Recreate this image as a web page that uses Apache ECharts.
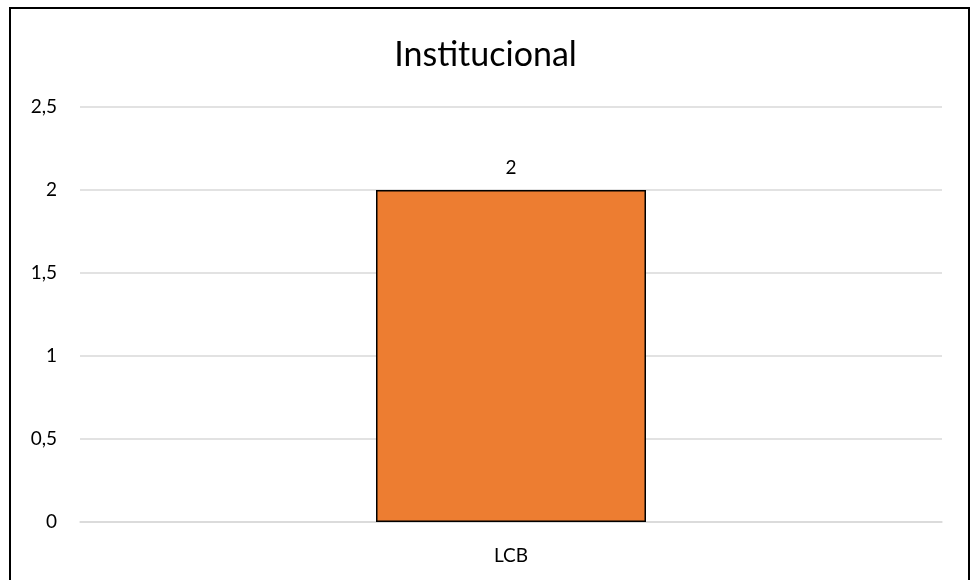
<!DOCTYPE html>
<html>
<head>
<meta charset="utf-8">
<script src="https://cdn.jsdelivr.net/npm/echarts@6/dist/echarts.min.js"></script>
<style>
html,body{margin:0;padding:0;background:#fff;}
#c{width:971px;height:580px;}
</style>
</head>
<body>
<div id="c"></div>
<script>
const title = "Institucional";
const categories = ["LCB"];
const values = [2];
const yTicks = [0, 0.5, 1, 1.5, 2, 2.5];

const chart = echarts.init(document.getElementById('c'), null, {renderer: 'canvas'});
const fontFam = 'Lato, "Open Sans", sans-serif';
chart.setOption({
  animation: false,
  backgroundColor: '#fff',
  title: {
    text: title,
    left: 'center',
    top: 33,
    textStyle: {fontFamily: fontFam, fontSize: 34, fontWeight: 'normal', color: '#000'}
  },
  grid: {left: 80, right: 29, top: 107, bottom: 58, containLabel: false},
  xAxis: {
    type: 'category',
    data: categories,
    axisLine: {show: true, lineStyle: {color: '#d9d9d9', width: 1.5}},
    axisTick: {show: false},
    axisLabel: {fontFamily: fontFam, fontSize: 19, color: '#000', margin: 24}
  },
  yAxis: {
    type: 'value',
    min: yTicks[0],
    max: yTicks[yTicks.length - 1],
    interval: 0.5,
    axisLine: {show: false},
    axisTick: {show: false},
    splitLine: {lineStyle: {color: '#d9d9d9', width: 1.5}},
    axisLabel: {
      fontFamily: fontFam, fontSize: 19, color: '#000', margin: 23,
      formatter: v => String(v).replace('.', ',')
    }
  },
  series: [{
    type: 'bar',
    data: values,
    barWidth: 270,
    itemStyle: {color: '#ed7d31', borderColor: '#000', borderWidth: 1.5},
    label: {
      show: true, position: 'top', distance: 13,
      fontFamily: fontFam, fontSize: 19, color: '#000'
    }
  }],
  graphic: [{
    type: 'rect',
    shape: {x: 10, y: 8, width: 959, height: 600},
    style: {fill: 'none', stroke: '#000', lineWidth: 2},
    silent: true,
    z: 100
  }]
});
</script>
</body>
</html>
